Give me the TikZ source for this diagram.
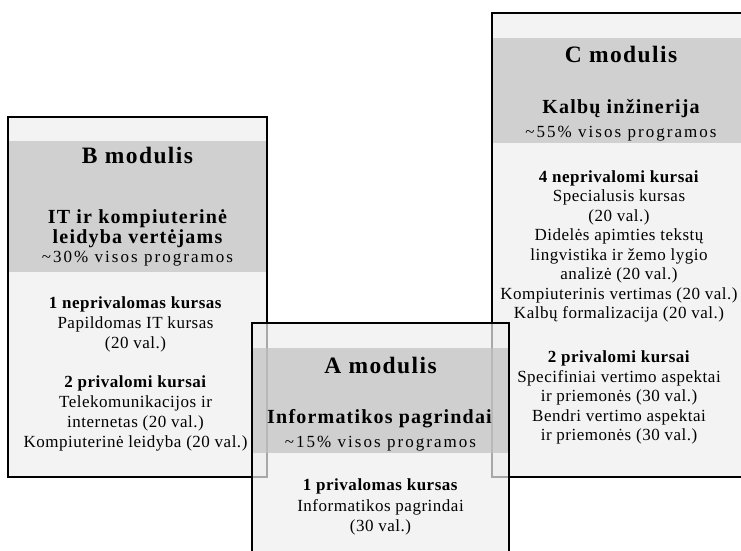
\documentclass[tikz,border=0pt]{standalone}
\usepackage{fontspec}
\setmainfont{Liberation Serif}[LetterSpace=6]
\usetikzlibrary{positioning}
\definecolor{panelgray}{RGB}{243,243,243}
\definecolor{bandgray}{RGB}{208,208,208}
\definecolor{panelA}{RGB}{238,238,238}
\definecolor{bandA}{RGB}{192,192,192}
\tikzset{
  modtitle/.style={font=\fontsize{23.5}{26}\selectfont\bfseries,anchor=base,inner sep=0pt},
  modsub/.style={font=\fontsize{20}{19.5}\selectfont\bfseries,align=center,inner sep=0pt},
  modshare/.style={font=\fontsize{17}{20}\selectfont\addfontfeatures{LetterSpace=12},anchor=base,inner sep=0pt},
  courses/.style={font=\fontsize{17}{19.5}\selectfont\addfontfeatures{LetterSpace=3},align=center,anchor=north,inner sep=0pt},
  frame/.style={draw=black,line width=1.1pt}
}
\begin{document}
\begin{tikzpicture}[x=1pt,y=-1pt]
\clip (0,0) rectangle (741,551);
% C modulis
\fill[panelgray] (492,13) rectangle (760,477);
\fill[bandgray] (492,38) rectangle (760,143);
\draw[frame] (492,13) rectangle (760,477);
\node[modtitle] (Ctitle) at (621,63) {C modulis};
\node[modsub,anchor=base] (Csub) at (621,113) {Kalbų inžinerija};
\node[modshare] (Cshare) at (621,137) {\textasciitilde55\% visos programos};
\node[courses] (Celect) at (619,170.5) {\textbf{4 neprivalomi kursai}\\Specialusis kursas\\(20 val.)\\Didelės apimties tekstų\\lingvistika ir žemo lygio\\analizė (20 val.)\\Kompiuterinis vertimas (20 val.)\\Kalbų formalizacija (20 val.)};
\node[courses] (Cmand) at (619,350.5) {\textbf{2 privalomi kursai}\\Specifiniai vertimo aspektai\\ir priemonės (30 val.)\\Bendri vertimo aspektai\\ir priemonės (30 val.)};
% B modulis
\fill[panelgray] (8,117) rectangle (267,477);
\fill[bandgray] (8,141) rectangle (267,272);
\draw[frame] (8,117) rectangle (267,477);
\node[modtitle] (Btitle) at (137.5,163) {B modulis};
\node[modsub,anchor=north] (Bsub) at (137.5,209.5) {IT ir kompiuterinė\\leidyba vertėjams};
\node[modshare] (Bshare) at (137.5,262) {\textasciitilde30\% visos programos};
\node[courses,font=\fontsize{17}{20}\selectfont\addfontfeatures{LetterSpace=3}] (Belect) at (135.5,296.5) {\textbf{1 neprivalomas kursas}\\Papildomas IT kursas\\(20 val.)};
\node[courses,font=\fontsize{17}{20}\selectfont\addfontfeatures{LetterSpace=3}] (Bmand) at (135.5,375.5) {\textbf{2 privalomi kursai}\\Telekomunikacijos ir\\internetas (20 val.)\\Kompiuterinė leidyba (20 val.)};
% A modulis, laid over B and C
\fill[panelA,fill opacity=.7] (252,323) rectangle (509,600);
\fill[bandA,fill opacity=.7] (252,348) rectangle (509,453);
\draw[frame] (252,600) -- (252,323) -- (509,323) -- (509,600);
\node[modtitle] (Atitle) at (380.5,373) {A modulis};
\node[modsub,anchor=base] (Asub) at (379.5,423) {Informatikos pagrindai};
\node[modshare] (Ashare) at (380.5,447) {\textasciitilde15\% visos programos};
\node[courses,font=\fontsize{17}{20.5}\selectfont\addfontfeatures{LetterSpace=3}] (Amand) at (380.5,478.5) {\textbf{1 privalomas kursas}\\Informatikos pagrindai\\(30 val.)};
\end{tikzpicture}
\end{document}
